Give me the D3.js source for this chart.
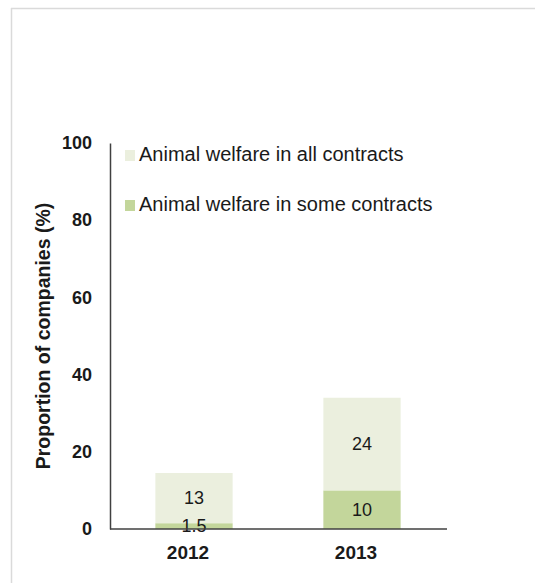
<!DOCTYPE html>
<html>
<head>
<meta charset="utf-8">
<script src="https://cdn.jsdelivr.net/npm/d3@7"></script>
<style>
  body { margin: 0; background: #fff; }
  text { font-family: "Liberation Sans", Arial, sans-serif; fill: #1a1a1a; }
</style>
</head>
<body>
<script>
// Datos del gráfico
var years = ["2012", "2013"];
var someContracts = [1.5, 10];
var allContracts = [13, 24];
var seriesNames = ["Animal welfare in all contracts", "Animal welfare in some contracts"];
var yTicks = [0, 20, 40, 60, 80, 100];

var colors = { all: "#ebefde", some: "#c3d69b" };

var W = 535, H = 583;
var margin = {top: 143, left: 110, right: 89, bottom: 54};
var width = W - margin.left - margin.right,
    height = H - margin.top - margin.bottom;

var svg = d3.select("body").append("svg")
    .attr("width", W)
    .attr("height", H);

// marco gris claro (arriba e izquierda)
svg.append("line").attr("x1", 11).attr("x2", W).attr("y1", 8.5).attr("y2", 8.5)
    .attr("stroke", "#dadada").attr("stroke-width", 1.5);
svg.append("line").attr("x1", 11.5).attr("x2", 11.5).attr("y1", 8).attr("y2", H)
    .attr("stroke", "#dadada").attr("stroke-width", 1.5);

var g = svg.append("g")
    .attr("transform", "translate(" + margin.left + "," + margin.top + ")");

var x = d3.scaleBand().domain(years).range([0, width]).paddingInner(0.54).paddingOuter(0.27);
var y = d3.scaleLinear().domain([0, 100]).range([height, 0]);

// apilar las dos series
var rows = years.map(function(yr, i) {
  return {year: yr, some: someContracts[i], all: allContracts[i]};
});
var stack = d3.stack().keys(["some", "all"])(rows);

g.selectAll("g.layer")
  .data(stack)
  .enter().append("g")
    .attr("class", "layer")
    .attr("fill", function(d) { return colors[d.key]; })
  .selectAll("rect")
  .data(function(d) { return d; })
  .enter().append("rect")
    .attr("x", function(d) { return x(d.data.year); })
    .attr("width", x.bandwidth())
    .attr("y", function(d) { return y(d[1]); })
    .attr("height", function(d) { return y(d[0]) - y(d[1]); });

// etiquetas de valores
stack.forEach(function(layer) {
  g.selectAll(null)
    .data(layer)
    .enter().append("text")
      .attr("x", function(d) { return x(d.data.year) + x.bandwidth() / 2; })
      .attr("y", function(d) { return (y(d[0]) + y(d[1])) / 2; })
      .attr("dy", "0.35em")
      .attr("text-anchor", "middle")
      .style("font-size", "18px")
      .text(function(d) { return d[1] - d[0]; });
});

// ejes
var yAxis = d3.axisLeft(y).tickValues(yTicks).tickSize(0).tickPadding(18);
g.append("g").attr("class", "y axis").call(yAxis)
  .call(function(s) {
    s.select(".domain").attr("stroke", "#404040").attr("stroke-width", 1.5);
    s.selectAll("text").style("font-size", "18px").style("font-weight", "bold");
  });

var xAxis = d3.axisBottom(x).tickSize(0).tickPadding(17);
g.append("g").attr("class", "x axis")
  .attr("transform", "translate(0," + height + ")")
  .call(xAxis)
  .call(function(s) {
    s.select(".domain").attr("d", "M0,0H" + (width + 1)).attr("stroke", "#404040").attr("stroke-width", 1.5);
    s.selectAll("text").attr("dx", -6).style("font-size", "19px").style("font-weight", "bold");
  });

// título del eje Y
g.append("text")
  .attr("transform", "rotate(-90)")
  .attr("x", -height / 2)
  .attr("y", -60)
  .attr("text-anchor", "middle")
  .style("font-size", "19.5px")
  .style("font-weight", "bold")
  .text("Proportion of companies (%)");

// leyenda
var legend = g.selectAll("g.legend")
  .data(seriesNames)
  .enter().append("g")
    .attr("class", "legend")
    .attr("transform", function(d, i) { return "translate(15," + (7 + i * 50) + ")"; });

legend.append("rect")
  .attr("width", 10).attr("height", 11)
  .attr("fill", function(d, i) { return i === 0 ? colors.all : colors.some; });

legend.append("text")
  .attr("x", 14).attr("y", 11)
  .style("font-size", "20px")
  .text(function(d) { return d; });
</script>
</body>
</html>
